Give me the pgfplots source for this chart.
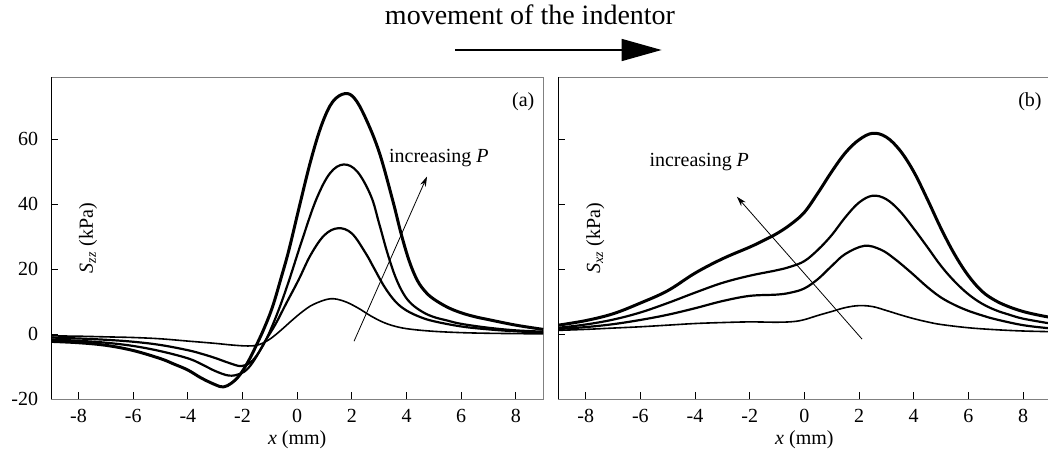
\documentclass[border=0pt]{standalone}
\usepackage{fontspec}
\setmainfont{Liberation Serif}
\usepackage{pgfplots}
\pgfplotsset{compat=1.18}
\usetikzlibrary{arrows.meta}

\definecolor{spine}{RGB}{128,128,128}

\pgfplotsset{
  panel/.style={
    scale only axis, width=246pt, height=161pt,
    anchor=south west,
    xmin=-9, xmax=9, ymin=-20, ymax=79,
    xtick={-8,-6,...,8}, xticklabels={-8,-6,-4,-2,0,2,4,6,8},
    ytick={-20,0,20,40,60},
    tick pos=left, tick align=inside, major tick length=3.5pt,
    axis line style={spine, line width=0.5pt},
    tick style={black, line width=0.5pt},
    xticklabel style={yshift=-1.5pt},
    yticklabel style={xshift=-3pt},
    xlabel={\textit{x} (mm)},
    xlabel style={yshift=3pt},
    clip=false,
  },
  thin curve/.style={black, line width=0.8pt, mark=none, smooth, tension=0.6},
  mid curve/.style={black, line width=1.1pt, mark=none, smooth, tension=0.6},
  thick curve/.style={black, line width=1.5pt, mark=none, smooth, tension=0.6},
}

\begin{document}
\begin{tikzpicture}
\path[use as bounding box] (0,0) rectangle (524pt,225pt);

\node[anchor=base, font=\fontsize{14}{16}\selectfont] at (265pt,212.5pt) {movement of the indentor};
\draw[line width=0.8pt, -{Triangle[length=20pt,width=11pt]}] (227.5pt,200pt) -- (330.8pt,200pt);

% (a) normal stress
\begin{axis}[panel, at={(25.6pt,25.35pt)}, yticklabels={-20,0,20,40,60}]
  \addplot[thin curve] coordinates {
    (-9,-0.5) (-8,-0.6) (-7,-0.8) (-6,-1.0) (-5,-1.4) (-4,-2.1) (-3,-2.8)
    (-2.4,-3.3) (-1.8,-3.6) (-1.4,-3.2) (-1.0,-1.5) (-0.6,1.2) (-0.2,4.2)
    (0.2,7.0) (0.6,9.2) (1.2,10.9) (1.7,10.2) (2.2,8.2) (2.7,5.6) (3.2,3.5)
    (3.7,2.2) (4.2,1.5) (5,0.9) (6,0.5) (7,0.3) (8,0.2) (9,0.1)
  };
  \addplot[mid curve] coordinates {
    (-9,-1.0) (-8,-1.3) (-7,-1.7) (-6,-2.3) (-5,-3.3) (-4,-4.9) (-3.5,-6.0)
    (-3,-7.3) (-2.5,-8.8) (-2.05,-9.8) (-1.7,-8.6) (-1.4,-5.5) (-1.1,-1)
    (-0.7,7) (-0.3,16.5) (0.2,29.5) (0.7,41.5) (1.2,49.5) (1.7,52.2) (2.2,50)
    (2.7,42.5) (3.0,34) (3.3,25) (3.6,17.5) (3.9,12.3) (4.2,9.2) (4.6,6.8)
    (5.0,5.3) (5.5,4.2) (6,3.2) (7,2) (8,1.2) (9,0.8)
  };
  \addplot[mid curve] coordinates {
    (-9,-1.6) (-8,-2.0) (-7,-2.6) (-6,-3.6) (-5,-5.2) (-4,-7.4) (-3.5,-9.2)
    (-3,-11.3) (-2.5,-12.7) (-2.1,-12.2) (-1.8,-10.5) (-1.5,-7) (-1.2,-2.5)
    (-0.8,3) (-0.4,9.5) (0.05,16.7) (0.5,24.5) (1,30.5) (1.5,32.6) (2,31)
    (2.5,25) (2.8,20.5) (3.2,14.5) (3.6,10) (4.0,7.3) (4.5,5.3) (5,4.0)
    (6,2.4) (7,1.5) (8,0.9) (9,0.5)
  };
  \addplot[thick curve] coordinates {
    (-9,-2.2) (-8,-2.6) (-7,-3.4) (-6,-5.0) (-5,-7.5) (-4.5,-9.2) (-4,-11)
    (-3.5,-13.5) (-3,-15.5) (-2.7,-16.2) (-2.4,-15) (-2.1,-12.5) (-1.8,-8.5)
    (-1.5,-3.5) (-1.2,2) (-0.9,8.5) (-0.6,17) (-0.3,26) (0.1,40) (0.5,53.5)
    (0.9,64.5) (1.3,71.5) (1.75,74) (2.1,72.5) (2.5,66.5) (3.0,56) (3.5,41)
    (3.8,31) (4.1,22.5) (4.4,16.5) (4.7,13) (5,10.8) (5.5,8.3) (6,6.6)
    (6.5,5.4) (7,4.5) (8,2.8) (9,1.5)
  };
  \draw[black, line width=0.5pt] (rel axis cs:0,0) -- (rel axis cs:0,1);
  \node[rotate=90] at (rel axis cs:0.075,0.5) {\textit{S}\textsubscript{\textit{zz}}\ (kPa)};
  \node[anchor=north east, inner sep=0, xshift=-4.2pt, yshift=-7.2pt] at (rel axis cs:1,1) {(a)};
  \draw[line width=0.4pt, -{Stealth[length=5pt,width=3pt]}] (axis cs:2.08,-2.15) -- (axis cs:4.75,48.5);
  \node[anchor=west, inner sep=0] at (axis cs:3.35,54.2) {increasing \textit{P}};
\end{axis}

% (b) shear stress
\begin{axis}[panel, at={(279.2pt,25.35pt)}, yticklabels={}]
  \addplot[thin curve] coordinates {
    (-9,1.2) (-8,1.5) (-7,1.9) (-6,2.3) (-5,2.8) (-4,3.3) (-3,3.6) (-2,3.8)
    (-1,3.7) (-0.4,3.9) (0,4.5) (0.5,5.8) (1,7.0) (1.5,8.2) (2,8.8) (2.5,8.5)
    (3,7.3) (3.5,6.0) (4,4.8) (4.5,3.8) (5,3.0) (6,2.0) (7,1.4) (8,1.0)
    (9,0.8) (9.2,0.8)
  };
  \addplot[mid curve] coordinates {
    (-9,1.6) (-8,2.2) (-7,3.1) (-6,4.4) (-5,6.0) (-4,8.0) (-3,10.2) (-2,11.8)
    (-1,12.2) (-0.5,12.8) (0,14.1) (0.5,17) (1,21) (1.5,24.7) (2.2,27.2)
    (2.8,26) (3.3,23.2) (3.9,19) (4.5,14.5) (5,11.3) (5.5,9) (6,7.2)
    (6.5,5.8) (7,4.6) (8,2.8) (9,1.8) (9.2,1.7)
  };
  \addplot[mid curve] coordinates {
    (-9,2.0) (-8,3.0) (-7,4.5) (-6,6.7) (-5,9.6) (-4,12.8) (-3,15.8) (-2,18.0)
    (-1,19.7) (-0.5,20.8) (0,22.5) (0.5,26) (1,30.5) (1.5,36) (2,40.5)
    (2.5,42.6) (3,41.5) (3.5,37.8) (4,32.5) (4.5,26.8) (5,21) (5.5,16.2)
    (6,12.3) (6.5,9.4) (7,7.4) (7.5,6) (8,4.8) (9,3.3) (9.2,3.1)
  };
  \addplot[thick curve] coordinates {
    (-9,2.8) (-8,4.2) (-7,6.3) (-6,9.6) (-5,13.4) (-4,18.8) (-3,23.2) (-2,26.8)
    (-1.5,28.8) (-1,31) (-0.5,33.8) (0,37.5) (0.5,43.5) (1,50) (1.5,55.8)
    (2,59.8) (2.5,61.8) (3,60.6) (3.5,56.5) (4,50) (4.5,41.5) (5,32.5)
    (5.5,24.5) (6,18) (6.5,13.2) (7,10.3) (7.5,8.4) (8,7.0) (8.5,6)
    (9,5.2) (9.2,5)
  };
  \draw[black, line width=0.5pt] (rel axis cs:0,0) -- (rel axis cs:0,1);
  \node[rotate=90] at (rel axis cs:0.075,0.5) {\textit{S}\textsubscript{\textit{xz}}\ (kPa)};
  \node[anchor=north east, inner sep=0, xshift=-4.2pt, yshift=-7.2pt] at (rel axis cs:1,1) {(b)};
  \draw[line width=0.4pt, -{Stealth[length=5pt,width=3pt]}] (axis cs:2.11,-1.5) -- (axis cs:-2.47,42.3);
  \node[anchor=west, inner sep=0] at (axis cs:-5.68,53.1) {increasing \textit{P}};
\end{axis}
\end{tikzpicture}
\end{document}
